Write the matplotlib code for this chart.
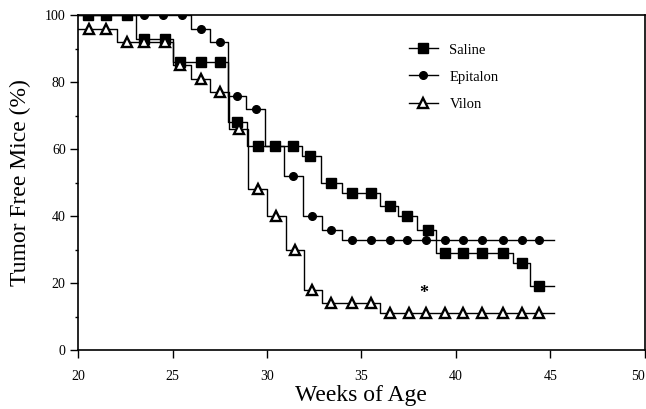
import matplotlib
matplotlib.use("Agg")
import matplotlib.pyplot as plt
from matplotlib.ticker import MultipleLocator

plt.rcParams["font.family"] = ["Liberation Serif", "DejaVu Serif"]

# first and last entries are the start / end of follow-up (no marker)
saline_weeks = [20, 20.5, 21.5, 22.6, 23.5, 24.6, 25.4, 26.5, 27.5, 28.4, 29.5, 30.4, 31.4,
                32.3, 33.4, 34.5, 35.5, 36.5, 37.4, 38.5, 39.4, 40.4, 41.4, 42.5, 43.5, 44.4, 45.2]
saline_pct = [100, 100, 100, 100, 93, 93, 86, 86, 86, 68, 61, 61, 61,
              58, 50, 47, 47, 43, 40, 36, 29, 29, 29, 29, 26, 19, 19]

epitalon_weeks = [20, 20.5, 21.5, 22.6, 23.5, 24.5, 25.5, 26.5, 27.5, 28.4, 29.4, 30.4, 31.4,
                  32.4, 33.4, 34.5, 35.5, 36.5, 37.4, 38.4, 39.4, 40.4, 41.4, 42.5, 43.5, 44.4, 45.2]
epitalon_pct = [100, 100, 100, 100, 100, 100, 100, 96, 92, 76, 72, 61, 52,
                40, 36, 33, 33, 33, 33, 33, 33, 33, 33, 33, 33, 33, 33]

vilon_weeks = [20, 20.6, 21.5, 22.6, 23.5, 24.6, 25.4, 26.5, 27.5, 28.5, 29.5, 30.5, 31.5,
               32.4, 33.4, 34.5, 35.5, 36.5, 37.5, 38.4, 39.4, 40.4, 41.4, 42.5, 43.5, 44.4, 45.2]
vilon_pct = [96, 96, 96, 92, 92, 92, 85, 81, 77, 66, 48, 40, 30,
             18, 14, 14, 14, 11, 11, 11, 11, 11, 11, 11, 11, 11, 11]

x_ticks = [20, 25, 30, 35, 40, 45, 50]
star_week, star_pct = 38.3, 17

fig = plt.figure(figsize=(6.46, 4.09), dpi=100)
ax = fig.add_axes([0.121, 0.144, 0.877, 0.819])

mk = slice(1, -1)
ax.plot(epitalon_weeks, epitalon_pct, drawstyle="steps-mid", color="black", lw=1.0,
        marker="o", ms=5.5, markevery=mk, label="Epitalon")
ax.plot(saline_weeks, saline_pct, drawstyle="steps-mid", color="black", lw=1.0,
        marker="s", ms=6.5, markevery=mk, label="Saline")
ax.plot(vilon_weeks, vilon_pct, drawstyle="steps-mid", color="black", lw=1.0,
        marker="^", ms=7.5, mfc="white", mew=1.7, markevery=mk, label="Vilon")

ax.text(star_week, star_pct, "*", ha="center", va="center", fontsize=13, fontweight="bold")

ax.set_xlim(20, 50)
ax.set_ylim(0, 100)
ax.set_xticks(x_ticks)
ax.yaxis.set_major_locator(MultipleLocator(20))
ax.yaxis.set_minor_locator(MultipleLocator(10))
ax.tick_params(axis="both", which="major", direction="out", length=6, width=1.0,
               labelsize=10, pad=3)
ax.tick_params(axis="x", pad=8)
ax.tick_params(axis="y", which="minor", direction="out", length=2.5, width=1.0)
for s in ax.spines.values():
    s.set_linewidth(1.2)

# the last x label sits on the figure edge; keep it inside
ax.xaxis.get_major_ticks()[-1].label1.set_horizontalalignment("right")

ax.set_xlabel("Weeks of Age", fontsize=17, labelpad=2)
ax.set_ylabel("Tumor Free Mice (%)", fontsize=17, labelpad=10)

h, l = ax.get_legend_handles_labels()
order = [1, 0, 2]
ax.legend([h[i] for i in order], [l[i] for i in order], loc="upper left",
          bbox_to_anchor=(0.56, 0.955), frameon=False, fontsize=10.5,
          handlelength=2.0, handletextpad=0.8, labelspacing=0.95, numpoints=1)

fig.savefig("out.png", dpi=100)
